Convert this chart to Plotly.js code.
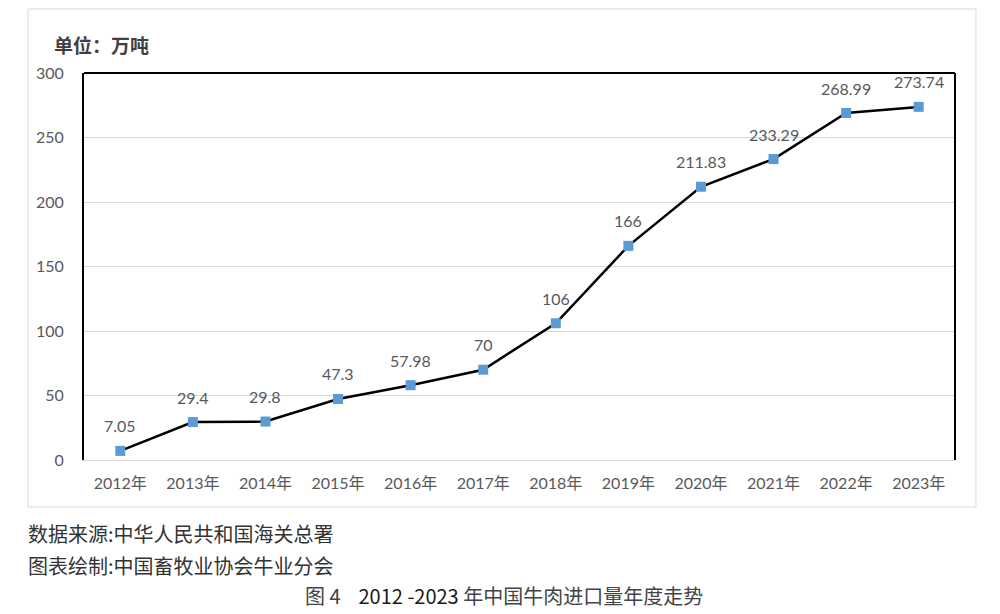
<!DOCTYPE html>
<html>
<head>
<meta charset="utf-8">
<script src="https://cdn.plot.ly/plotly-3.0.1.min.js"></script>
<style>
  html, body { margin: 0; padding: 0; background: #fff; }
  #plot { width: 1000px; height: 614px; }
</style>
</head>
<body>
<div id="plot"></div>
<script>
// 年度牛肉进口量（万吨）
const years = ['2012年', '2013年', '2014年', '2015年', '2016年', '2017年',
               '2018年', '2019年', '2020年', '2021年', '2022年', '2023年'];
const imports = [7.05, 29.4, 29.8, 47.3, 57.98, 70, 106, 166, 211.83, 233.29, 268.99, 273.74];
const labels = ['7.05', '29.4', '29.8', '47.3', '57.98', '70', '106', '166', '211.83', '233.29', '268.99', '273.74'];
const yTicks = [0, 50, 100, 150, 200, 250, 300];

const fontNum = 'Lato, "Noto Sans CJK SC", sans-serif';
const fontCjk = '"Noto Sans CJK SC", sans-serif';

const trace = {
    x: years,
    y: imports,
    type: 'scatter',
    mode: 'lines+markers',
    line: { color: '#000', width: 2.5 },
    marker: { symbol: 'square', color: '#5B9BD5', size: 10 },
    cliponaxis: false,
    hoverinfo: 'x+y'
};

// 数据标签
const dataLabels = years.map((yr, i) => ({
    x: yr,
    y: imports[i],
    text: labels[i],
    xref: 'x',
    yref: 'y',
    yshift: 25,
    showarrow: false,
    font: { family: fontNum, size: 16, color: '#595959' }
}));

const layout = {
    width: 1000,
    height: 614,
    margin: { l: 84, r: 45, t: 73, b: 154 },
    paper_bgcolor: '#fff',
    plot_bgcolor: '#fff',
    showlegend: false,
    xaxis: {
        type: 'category',
        range: [-0.5, years.length - 0.5],
        showgrid: false,
        showline: true,
        linecolor: '#d9d9d9',
        linewidth: 1,
        ticks: '',
        ticklabelstandoff: 9,
        tickfont: { family: fontNum, size: 16, color: '#595959' },
        fixedrange: true
    },
    yaxis: {
        range: [0, 300],
        tickvals: yTicks,
        showgrid: true,
        gridcolor: '#d9d9d9',
        gridwidth: 1,
        zeroline: false,
        showline: true,
        linecolor: '#000',
        linewidth: 2,
        ticks: '',
        ticklabelstandoff: 15,
        tickfont: { family: fontNum, size: 16, color: '#595959' },
        fixedrange: true
    },
    shapes: [
        // 外框
        { type: 'rect', xref: 'paper', yref: 'paper', x0: -0.0643, x1: 1.0241, y0: -0.1214, y1: 1.1654,
          line: { color: '#d9d9d9', width: 1 }, layer: 'below' },
        // 上边、右边黑线
        { type: 'line', xref: 'paper', yref: 'paper', x0: 0, x1: 1, y0: 1, y1: 1,
          line: { color: '#000', width: 2 } },
        { type: 'line', xref: 'paper', yref: 'paper', x0: 1, x1: 1, y0: 0, y1: 1,
          line: { color: '#000', width: 2 } }
    ],
    annotations: dataLabels.concat([
        { text: '<b>单位：万吨</b>', xref: 'paper', yref: 'paper', x: -0.0367, y: 1.0724,
          xanchor: 'left', yanchor: 'middle', showarrow: false,
          font: { family: fontCjk, size: 19, color: '#404040' } },
        { text: '数据来源:中华人民共和国海关总署', xref: 'paper', yref: 'paper', x: -0.0666, y: -0.19,
          xanchor: 'left', yanchor: 'middle', showarrow: false,
          font: { family: fontCjk, size: 20, color: '#333' } },
        { text: '图表绘制:中国畜牧业协会牛业分会', xref: 'paper', yref: 'paper', x: -0.0666, y: -0.2727,
          xanchor: 'left', yanchor: 'middle', showarrow: false,
          font: { family: fontCjk, size: 20, color: '#333' } },
        { text: '图 4    <span style="color:#1a1a1a">2012 -2023</span> 年中国牛肉进口量年度走势',
          xref: 'paper', yref: 'paper', x: 0.482, y: -0.3514,
          xanchor: 'center', yanchor: 'middle', showarrow: false,
          font: { family: fontCjk, size: 20, color: '#444' } }
    ])
};

Plotly.newPlot('plot', [trace], layout, { displayModeBar: false, staticPlot: true });
</script>
</body>
</html>
